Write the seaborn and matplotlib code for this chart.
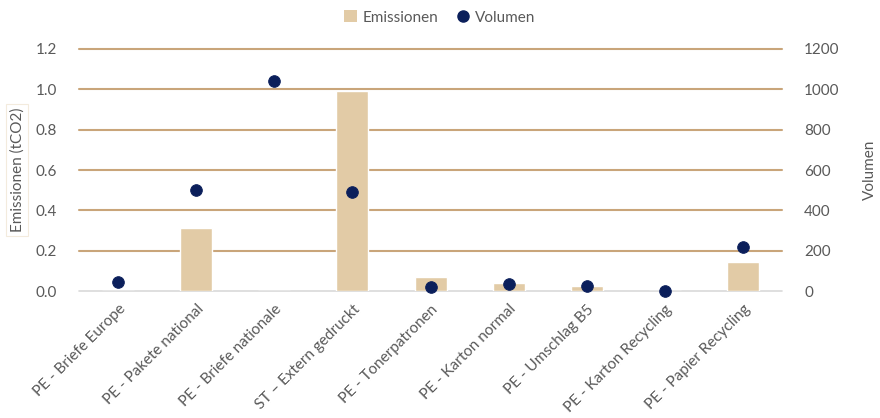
import numpy as np
import pandas as pd
import matplotlib
matplotlib.use("Agg")
import matplotlib.pyplot as plt
from matplotlib.lines import Line2D
from matplotlib.patches import Patch
import seaborn as sns

categories = [
    "PE - Briefe Europe",
    "PE - Pakete national",
    "PE - Briefe nationale",
    "ST \u2013 Extern gedruckt",
    "PE - Tonerpatronen",
    "PE - Karton normal",
    "PE - Umschlag B5",
    "PE - Karton Recycling",
    "PE - Papier Recycling",
]
emissionen = [0.0, 0.31, 0.0, 0.99, 0.07, 0.04, 0.025, 0.0, 0.145]
volumen = [45, 500, 1040, 493, 20, 35, 25, 0, 218]

bar_color = "#E2CBA6"
dot_color = "#0B1F5B"
grid_color = "#C9A57A"
text_color = "#595959"

sns.set_theme(style="white")
plt.rcParams["font.family"] = ["Lato", "DejaVu Sans"]
fs = 11

df = pd.DataFrame({"pos": np.arange(len(categories)), "cat": categories,
                   "emissionen": emissionen, "volumen": volumen})

fig = plt.figure(figsize=(8.8, 4.18), dpi=100)
ax = fig.add_axes([0.0898, 0.3038, 0.7989, 0.579])

sns.barplot(data=df, x="cat", y="emissionen", color=bar_color, width=0.41,
            saturation=1, ax=ax, zorder=2)
ax.set_xlim(-0.5, len(categories) - 0.5)
ax.set_ylim(0, 1.2)
ticks = np.arange(0, 1.21, 0.2)
ax.set_yticks(ticks)
ax.set_yticklabels([f"{v:.1f}" for v in ticks])
for y in ticks[1:]:
    ax.axhline(y, color=grid_color, lw=1.5, zorder=1, clip_on=False)
ax.axhline(0, color="#D9D9D9", lw=1.2, zorder=1, clip_on=False)
for s in ax.spines.values():
    s.set_visible(False)
ax.grid(False)
ax.tick_params(axis="both", length=0, colors=text_color, labelsize=fs)
ax.tick_params(axis="y", pad=16)
ax.set_xlabel("")
ax.set_xticks(np.arange(len(categories)))
ax.set_xticklabels(categories, rotation=45, ha="right", rotation_mode="anchor",
                   fontsize=fs, color=text_color)
ax.tick_params(axis="x", pad=8)
ax.set_ylabel("Emissionen (tCO2)", color=text_color, fontsize=fs, labelpad=8,
              bbox=dict(boxstyle="square,pad=0.25", fc="white", ec="#F3EBDD", lw=0.8))

ax2 = ax.twinx()
sns.scatterplot(data=df, x="pos", y="volumen", color=dot_color, s=70,
                edgecolor=dot_color, ax=ax2, zorder=3, clip_on=False)
ax2.set_ylim(0, 1200)
ax2.set_yticks(np.arange(0, 1201, 200))
for s in ax2.spines.values():
    s.set_visible(False)
ax2.grid(False)
ax2.tick_params(axis="y", length=0, colors=text_color, labelsize=fs, pad=16)
ax2.set_ylabel("Volumen", color=text_color, fontsize=fs, labelpad=17)
ax2.set_xlabel("")
ax2.set_xlim(-0.5, len(categories) - 0.5)

handles = [
    Patch(facecolor=bar_color, edgecolor="none", label="Emissionen"),
    Line2D([0], [0], marker="o", color="none", markerfacecolor=dot_color,
           markeredgecolor=dot_color, markersize=8, label="Volumen"),
]
fig.legend(handles=handles, loc="center", bbox_to_anchor=(0.5, 0.958), ncol=2,
           frameon=False, fontsize=fs, labelcolor=text_color,
           handlelength=0.8, handleheight=0.8, handletextpad=0.4, columnspacing=1.2)

fig.savefig("out.png", dpi=100, facecolor="white")
